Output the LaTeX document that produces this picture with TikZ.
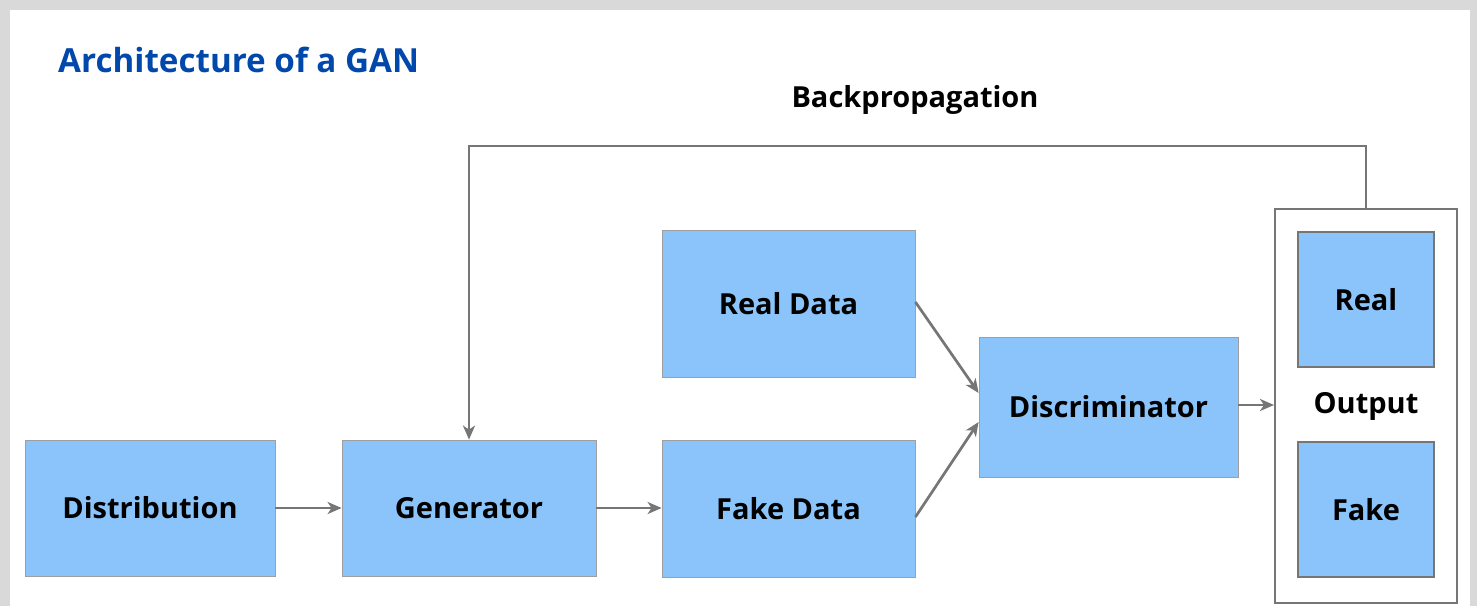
\documentclass[tikz,border=0pt]{standalone}
\usepackage{fontspec}
\setmainfont{Open Sans}
\usetikzlibrary{arrows.meta,positioning}
\definecolor{boxblue}{RGB}{138,196,250}
\definecolor{titleblue}{RGB}{0,72,171}
\definecolor{linegray}{RGB}{118,118,118}
\definecolor{bggray}{RGB}{217,217,217}
\tikzset{
  blk/.style={fill=boxblue, draw=linegray!70, line width=0.8pt, inner sep=0pt, font=\fontsize{29}{34}\selectfont\bfseries},
  outblk/.style={fill=boxblue, draw=linegray, line width=2pt, inner sep=0pt, font=\fontsize{29}{34}\selectfont\bfseries},
  conn/.style={draw=linegray, line width=2.7pt, -{Stealth[length=14pt,width=12pt,inset=4pt]}},
  lbl/.style={font=\fontsize{29}{34}\selectfont\bfseries, inner sep=0pt},
}
\begin{document}
\begin{tikzpicture}[x=1pt,y=-1pt]
\useasboundingbox (0,0) rectangle (1477,606);
\fill[bggray] (0,0) rectangle (1477,606);
\fill[white] (10,10) rectangle (1470,606);
\node[anchor=base west, text=titleblue, font=\fontsize{33.2}{39}\selectfont\bfseries, inner sep=0pt] (title) at (58,72) {Architecture of a GAN};
\node[blk, minimum width=250pt, minimum height=136pt] (dist) at (150,508) {Distribution};
\node[blk, minimum width=254pt, minimum height=136pt] (gen) at (469,508) {Generator};
\node[blk, minimum width=253pt, minimum height=137pt] (fake) at (788.5,508.5) {Fake Data};
\node[blk, minimum width=253pt, minimum height=147pt] (real) at (788.5,303.5) {Real Data};
\node[blk, minimum width=259pt, minimum height=140pt] (disc) at (1108.5,407) {Discriminator};
\node[draw=linegray, line width=2pt, fill=white, minimum width=182pt, minimum height=394pt, inner sep=0pt] (outbox) at (1366,406) {};
\node[outblk, minimum width=136pt, minimum height=135pt] (oreal) at (1366,299.5) {Real};
\node[outblk, minimum width=136pt, minimum height=135pt] (ofake) at (1366,509.5) {Fake};
\node[lbl] (outlbl) at (1366,406) {Output};
\node[lbl] (bp) at (915,100) {Backpropagation};
\coordinate (c1) at (1366,146);
\coordinate (c2) at (469,146);
\draw[conn] (dist.east) -- (gen.west);
\draw[conn] (gen.east) -- (fake.west |- gen.east);
\draw[conn] (real.east |- 0,302) -- (disc.west |- 0,393);
\draw[conn] (fake.east |- 0,517) -- (disc.west |- 0,422);
\draw[conn] (disc.east |- 0,405) -- (outbox.west |- 0,405);
\draw[conn] (outbox.north) -- (c1) -- (c2) -- (gen.north);
\end{tikzpicture}
\end{document}
